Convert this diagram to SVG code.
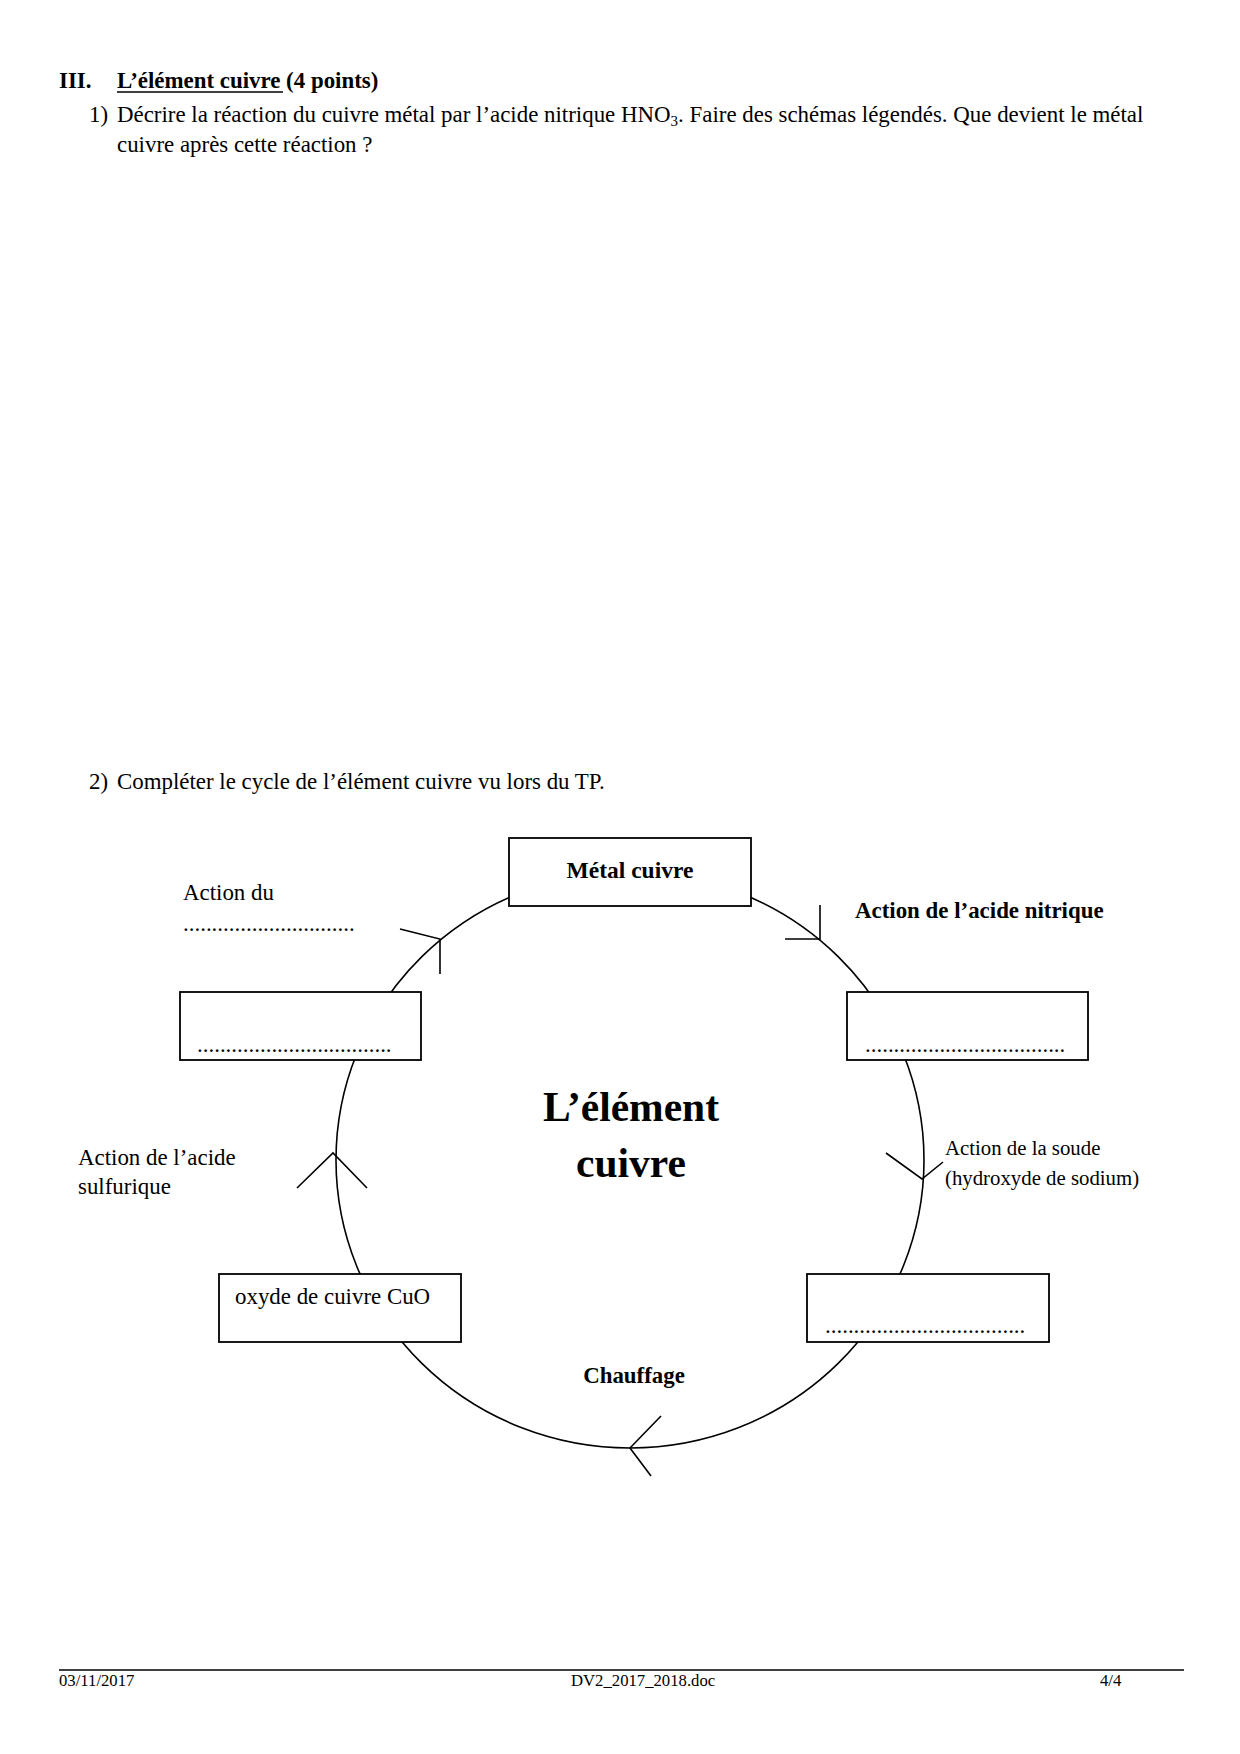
<svg xmlns="http://www.w3.org/2000/svg" width="1240" height="1754" viewBox="0 0 1240 1754">
<style>
text{font-family:"Liberation Serif","Times New Roman",serif;fill:#000}
.h{font-size:22.9px}
.b{font-weight:bold}
.n{font-size:22.9px}
.s{font-size:20.8px}
.f{font-size:16.7px}
.big{font-size:41.5px;font-weight:bold}
.box{fill:#fff;stroke:#000;stroke-width:1.8}
.ln{fill:none;stroke:#000;stroke-width:1.6}
</style>
<rect width="1240" height="1754" fill="#fff"/>
<g id="header">
<text class="h b" x="59" y="88">III.</text>
<text class="h b" x="117" y="88">L’élément cuivre <tspan>(4 points)</tspan></text>
<line x1="117" y1="92" x2="283" y2="92" stroke="#000" stroke-width="1.6"/>
<text class="h" x="89" y="122">1)</text>
<text class="h" x="117" y="122">Décrire la réaction du cuivre métal par l’acide nitrique HNO<tspan font-size="15" dy="4">3</tspan><tspan dy="-4">. Faire des schémas légendés. Que devient le métal</tspan></text>
<text class="h" x="117" y="152">cuivre après cette réaction ?</text>
<text class="h" x="89" y="789">2)</text>
<text class="h" x="117" y="789">Compléter le cycle de l’élément cuivre vu lors du TP.</text>
</g>
<g id="connectors">
<ellipse class="ln" cx="630" cy="1160" rx="294" ry="288"/>
<polyline class="ln" points="820,905 820,939 785,939"/>
<polyline class="ln" points="400,929 440,939 440,974"/>
<polyline class="ln" points="886,1153 922,1179 943,1162"/>
<polyline class="ln" points="297,1188 333,1153 367,1188"/>
<polyline class="ln" points="661,1416 630,1448 651,1476"/>
</g>
<g id="node-metal">
<rect class="box" x="509" y="838" width="242" height="68"/>
<text class="b" x="630" y="878" font-size="23.5" text-anchor="middle">Métal cuivre</text>
</g>
<g id="node-topleft">
<rect class="box" x="180" y="992" width="241" height="68"/>
<text class="n" x="197" y="1052">..................................</text>
</g>
<g id="node-topright">
<rect class="box" x="847" y="992" width="241" height="68"/>
<text class="n" x="865" y="1052">...................................</text>
</g>
<g id="node-cuo">
<rect class="box" x="219" y="1274" width="242" height="68"/>
<text class="n" x="235" y="1304">oxyde de cuivre CuO</text>
</g>
<g id="node-bottomright">
<rect class="box" x="807" y="1274" width="242" height="68"/>
<text class="n" x="825" y="1333">...................................</text>
</g>
<g id="labels">
<text class="n" x="183" y="900">Action du</text>
<text class="n" x="183" y="931">..............................</text>
<text class="n b" x="855" y="918">Action de l’acide nitrique</text>
<text class="s" x="945" y="1155">Action de la soude</text>
<text class="s" x="945" y="1185">(hydroxyde de sodium)</text>
<text class="n" x="78" y="1165">Action de l’acide</text>
<text class="n" x="78" y="1194">sulfurique</text>
<text class="n b" x="634" y="1383" text-anchor="middle">Chauffage</text>
<text class="big" x="631" y="1121" text-anchor="middle">L’élément</text>
<text class="big" x="631" y="1177" text-anchor="middle">cuivre</text>
</g>
<g id="footer">
<line x1="59" y1="1670" x2="1184" y2="1670" stroke="#000" stroke-width="1.3"/>
<text class="f" x="59" y="1686">03/11/2017</text>
<text class="f" x="571" y="1686">DV2_2017_2018.doc</text>
<text class="f" x="1100" y="1686">4/4</text>
</g>
</svg>
